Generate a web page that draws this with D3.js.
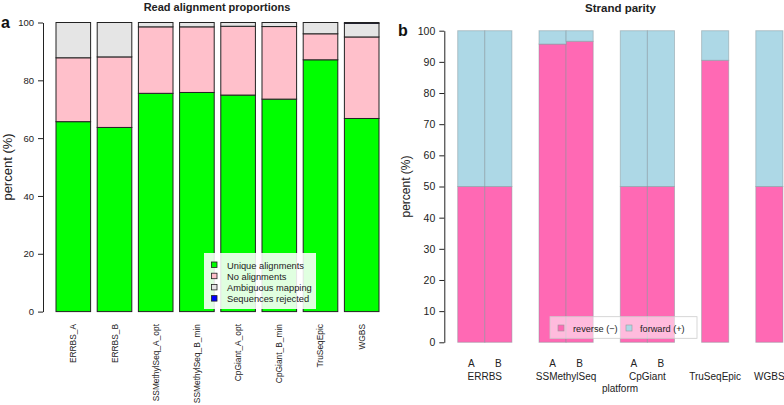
<!DOCTYPE html>
<html><head><meta charset="utf-8">
<script src="https://cdn.jsdelivr.net/npm/d3@7"></script>
<style>body{margin:0;background:#fff}svg{display:block}text{font-family:"Liberation Sans",Arial,sans-serif}</style>
</head><body><svg id="c" width="784" height="405"></svg>
<script>
// Panel a data
const samples = ["ERRBS_A","ERRBS_B","SSMethylSeq_A_opt","SSMethylSeq_B_min","CpGiant_A_opt","CpGiant_B_min","TruSeqEpic","WGBS"];
const uniqueAln = [65.7,63.7,75.5,75.8,74.9,73.5,87.1,66.8];
const noAln     = [22.1,24.4,23.0,22.7,23.8,25.1,9.0,28.2];
const ambiguous = [12.2,11.9,1.5,1.5,1.3,1.4,3.9,4.7];
const rejected  = [0,0,0,0,0,0,0,0.3];
const alnSeries = ["Unique alignments","No alignments","Ambiguous mapping","Sequences rejected"];
const alnColors = ["#00ff00","#ffc0cb","#e5e5e5","#0000ff"];
const ticksA = [0,20,40,60,80,100];

// Panel b data
const platforms = ["ERRBS","SSMethylSeq","CpGiant","TruSeqEpic","WGBS"];
const strandSamples = [["A","B"],["A","B"],["A","B"],[""],[""]];
const reverseStrand = [[50,50],[95.7,96.6],[50,50],[90.5],[50]];
const forwardStrand = [[50,50],[4.3,3.4],[50,50],[9.5],[50]];
const strandSeries = ["reverse (\u2212)","forward (+)"];
const strandColors = ["#ff69b4","#add8e6"];
const ticksB = [0,10,20,30,40,50,60,70,80,90,100];

const svg = d3.select("#c");

// ---------- Panel a ----------
const ga = svg.append("g");
const xa = d3.scaleBand().domain(samples).range([56, 379]).paddingInner(0.16).paddingOuter(0);
const ya = d3.scaleLinear().domain([0,100]).range([311.6, 22.5]);
const rowsA = samples.map((s,i)=>({s, "Unique alignments":uniqueAln[i], "No alignments":noAln[i], "Ambiguous mapping":ambiguous[i], "Sequences rejected":rejected[i]}));
const stackA = d3.stack().keys(alnSeries)(rowsA);
stackA.forEach((layer,k)=>{
  ga.append("g").selectAll("rect").data(layer).join("rect")
    .attr("x", d=>xa(d.data.s)).attr("width", xa.bandwidth())
    .attr("y", d=>ya(d[1])).attr("height", d=>Math.max(0, ya(d[0])-ya(d[1])))
    .attr("fill", alnColors[k]).attr("stroke", "#222").attr("stroke-width", 1);
});
const axA = ga.append("g").attr("transform","translate(43,0)")
  .call(d3.axisLeft(ya).tickValues(ticksA).tickSize(5).tickSizeOuter(0).tickPadding(4));
axA.select(".domain").attr("stroke","#222");
axA.selectAll(".tick line").attr("stroke","#222");
axA.selectAll(".tick text").attr("font-size","9.5px").attr("fill","#222");
ga.append("text").attr("transform","translate(12,167) rotate(-90)").attr("text-anchor","middle")
  .attr("font-size","13px").attr("fill","#222").text("percent (%)");
ga.append("g").selectAll("text").data(samples).join("text")
  .attr("transform", d=>`translate(${xa(d)+xa.bandwidth()/2+3},324) rotate(-90)`)
  .attr("text-anchor","end").attr("font-size","8.4px").attr("fill","#222").text(d=>d);
ga.append("text").attr("x",217).attr("y",10.5).attr("text-anchor","middle")
  .attr("font-weight","bold").attr("font-size","11px").attr("fill","#222").text("Read alignment proportions");
ga.append("text").attr("x",1).attr("y",28).attr("font-weight","bold").attr("font-size","16px").attr("fill","#111").text("a");
// legend a
const la = ga.append("g");
la.append("rect").attr("x",204).attr("y",253).attr("width",112).attr("height",56).attr("fill","#fff").attr("fill-opacity",0.88);
alnSeries.forEach((s,i)=>{
  la.append("rect").attr("x",211.5).attr("y",262+i*11.2).attr("width",5.5).attr("height",5.5)
    .attr("fill",alnColors[i]).attr("stroke","#222").attr("stroke-width",0.8);
  la.append("text").attr("x",227).attr("y",268.5+i*11.2).attr("font-size","9.3px").attr("fill","#222").text(s);
});

// ---------- Panel b ----------
const gb = svg.append("g");
const slots = [], rowsB = [];
platforms.forEach((p,i)=>{
  strandSamples[i].forEach((smp,j)=>{
    const key = p+"_"+j;
    slots.push(key);
    rowsB.push({key, p, smp, [strandSeries[0]]:reverseStrand[i][j], [strandSeries[1]]:forwardStrand[i][j]});
  });
  if(i<platforms.length-1) slots.push("gap"+i);
});
const xb = d3.scaleBand().domain(slots).range([457.7, 782.9]).padding(0);
const yb = d3.scaleLinear().domain([0,100]).range([342.3, 30.7]);
const stackB = d3.stack().keys(strandSeries)(rowsB);
stackB.forEach((layer,k)=>{
  gb.append("g").selectAll("rect").data(layer).join("rect")
    .attr("x", d=>xb(d.data.key)).attr("width", xb.bandwidth())
    .attr("y", d=>yb(d[1])).attr("height", d=>yb(d[0])-yb(d[1]))
    .attr("fill", strandColors[k]).attr("stroke","#7f8f95").attr("stroke-opacity",0.45).attr("stroke-width",1);
});
const axB = gb.append("g").attr("transform","translate(444.3,0)")
  .call(d3.axisLeft(yb).tickValues(ticksB).tickSize(5).tickSizeOuter(0).tickPadding(4));
axB.select(".domain").attr("stroke","#222");
axB.selectAll(".tick line").attr("stroke","#222");
axB.selectAll(".tick text").attr("font-size","10.5px").attr("fill","#222");
gb.append("text").attr("transform","translate(410,186.5) rotate(-90)").attr("text-anchor","middle")
  .attr("font-size","12px").attr("fill","#222").text("percent (%)");
gb.append("g").selectAll("text").data(rowsB.filter(r=>r.smp)).join("text")
  .attr("x", d=>xb(d.key)+xb.bandwidth()/2).attr("y",367).attr("text-anchor","middle")
  .attr("font-size","10px").attr("fill","#222").text(d=>d.smp);
gb.append("g").selectAll("text").data(platforms).join("text")
  .attr("x", (p,i)=>{const ks = rowsB.filter(r=>r.p===p).map(r=>xb(r.key)); return (d3.min(ks)+d3.max(ks)+xb.bandwidth())/2;})
  .attr("y",379.5).attr("text-anchor","middle").attr("font-size","10px").attr("fill","#222").text(d=>d);
gb.append("text").attr("x",620).attr("y",392).attr("text-anchor","middle").attr("font-size","10px").attr("fill","#222").text("platform");
gb.append("text").attr("x",620.5).attr("y",11.5).attr("text-anchor","middle")
  .attr("font-weight","bold").attr("font-size","11.5px").attr("fill","#222").text("Strand parity");
gb.append("text").attr("x",398).attr("y",36).attr("font-weight","bold").attr("font-size","16px").attr("fill","#111").text("b");
// legend b
const lb = gb.append("g");
lb.append("rect").attr("x",550).attr("y",316.7).attr("width",147).attr("height",21.6)
  .attr("fill","#fff").attr("fill-opacity",0.55).attr("stroke","#ccc").attr("stroke-width",0.8);
const legX = [558, 626], legT = [573, 640];
strandSeries.forEach((s,i)=>{
  lb.append("rect").attr("x",legX[i]).attr("y",325).attr("width",6).attr("height",6)
    .attr("fill",strandColors[i]).attr("stroke","#999").attr("stroke-width",0.6);
  lb.append("text").attr("x",legT[i]).attr("y",331.5).attr("font-size","9.2px").attr("fill","#222").text(s);
});
</script></body></html>
